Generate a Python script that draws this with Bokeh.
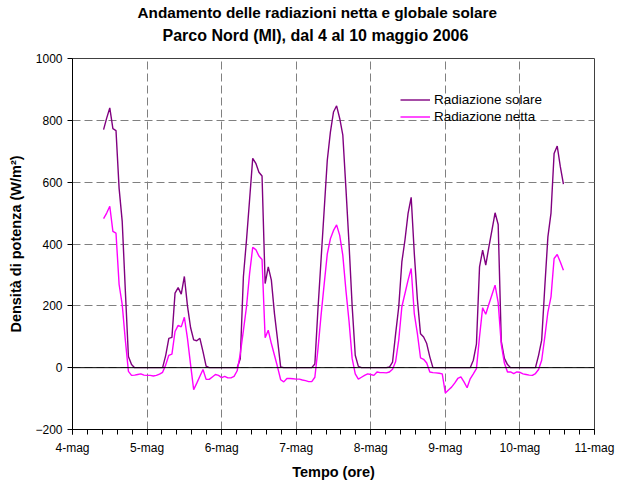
import numpy as np
from bokeh.plotting import figure
from bokeh.models import Title, FixedTicker, Span, Legend, Range1d
from bokeh.embed import file_html
from bokeh.resources import INLINE

# ---- data (hourly readings, hour 0 = 4 May 00:00) ----
start_hour = 10
solare = [
    # 4 May 10:00-23:00
    770, 807, 840, 773, 767, 580, 473, 250, 36, 10, 0, 0, 0, 0,
    # 5 May
    0, 0, 0, 0, 0, 0, 40, 95, 98, 241, 259, 238, 295, 200, 130, 90, 87, 95, 52, 5, 0, 0, 0, 0,
    # 6 May
    0, 0, 0, 0, 0, 0, 29, 294, 413, 544, 677, 661, 632, 620, 272, 326, 283, 175, 90, 2, 0, 0, 0, 0,
    # 7 May
    0, 0, 0, 0, 0, 0, 12, 190, 350, 510, 671, 762, 827, 847, 806, 752, 580, 400, 200, 40, 4, 0, 0, 0,
    # 8 May
    0, 0, 0, 0, 0, 0, 2, 18, 110, 197, 342, 413, 499, 551, 370, 220, 110, 99, 78, 35, 0, 0, 0, 0,
    # 9 May
    0, 0, 0, 0, 0, 0, 0, 0, 0, 24, 76, 326, 380, 332, 390, 445, 501, 463, 85, 30, 10, 0, 0, 0,
    # 10 May 00:00-14:00
    0, 0, 0, 0, 0, 0, 40, 89, 261, 423, 500, 693, 717, 650, 594,
]
netta = [
    482, 500, 522, 441, 435, 269, 204, 90, -12, -25, -24, -22, -20, -24,
    -25, -25, -27, -25, -21, -15, 9, 40, 44, 117, 137, 132, 163, 95, 10, -71, -50, -28, -6, -38, -38, -30, -22, -25,
    -32, -28, -33, -33, -28, -10, 45, 120, 197, 305, 389, 382, 361, 350, 97, 121, 78, 40, 2, -39, -46, -35, -35, -36,
    -37, -37, -40, -42, -45, -45, -31, 60, 170, 270, 368, 417, 444, 462, 428, 363, 250, 150, 30, -20, -37, -31, -25, -20,
    -22, -25, -14, -16, -16, -17, -14, -5, 20, 90, 197, 240, 283, 321, 175, 110, 32, 27, 15, -14, -16, -17, -18, -20,
    -82, -72, -63, -50, -35, -30, -46, -65, -36, -20, -3, 100, 194, 173, 205, 236, 267, 210, 75, 15, -14, -14, -19, -14,
    -15, -20, -22, -24, -25, -19, -6, 24, 99, 180, 229, 353, 366, 342, 315,
]
day_labels = ["4-mag", "5-mag", "6-mag", "7-mag", "8-mag", "9-mag", "10-mag", "11-mag"]
y_ticks = [-200, 0, 200, 400, 600, 800, 1000]

hours = start_hour + np.arange(len(solare))
x = hours / 24.0

FONT = "Liberation Sans"

p = figure(frame_width=522, frame_height=371, output_backend="svg", toolbar_location=None,
           x_range=Range1d(0, 7), y_range=Range1d(-200, 1000),
           min_border_left=72, min_border_right=32, min_border_bottom=50, min_border_top=57,
           background_fill_color="white", border_fill_color="white")
p.title.visible = False

r1 = p.line(x, solare, line_color="#800080", line_width=1.4)
r2 = p.line(x, netta, line_color="#FF00FF", line_width=1.4)

p.add_layout(Span(location=0, dimension="width", line_color="black", line_width=1))

# titles (a thin spacer block sits between the plot frame and the subtitle)
spacer = Title(text=" ", text_font_size="1px", standoff=9)
p.add_layout(spacer, "above")
t2 = Title(text="Parco Nord (MI), dal 4 al 10 maggio 2006", align="left", offset=90,
           text_font=FONT, text_font_size="16px", text_font_style="bold",
           text_color="black", standoff=6)
p.add_layout(t2, "above")
t1 = Title(text="Andamento delle radiazioni netta e globale solare", align="left", offset=65,
           text_font=FONT, text_font_size="15.3px", text_font_style="bold",
           text_color="black", standoff=2)
p.add_layout(t1, "above")

# axes
xa = p.xaxis[0]
xa.ticker = FixedTicker(ticks=list(range(len(day_labels))),
                        minor_ticks=[i * 0.2 for i in range(36)])
xa.major_label_overrides = {i: lab for i, lab in enumerate(day_labels)}
xa.axis_label = "Tempo (ore)"
ya = p.yaxis[0]
ya.ticker = FixedTicker(ticks=y_ticks)
ya.axis_label = "Densità di potenza (W/m²)"
for ax in (xa, ya):
    ax.axis_line_color = "black"
    ax.major_tick_line_color = "black"
    ax.major_tick_in = 0
    ax.major_tick_out = 5
    ax.major_label_text_font = FONT
    ax.major_label_text_font_size = "12px"
    ax.major_label_text_color = "black"
    ax.axis_label_text_font = FONT
    ax.axis_label_text_font_size = "14.5px"
    ax.axis_label_text_font_style = "bold"
    ax.axis_label_text_color = "black"
xa.minor_tick_line_color = "black"
xa.minor_tick_in = 0
xa.minor_tick_out = 5
xa.major_label_standoff = 6
xa.axis_label_standoff = 6
ya.minor_tick_line_color = None
ya.major_label_standoff = 5
ya.axis_label_standoff = 8

for g in (p.xgrid[0], p.ygrid[0]):
    g.grid_line_color = "#808080"
    g.grid_line_dash = "8 4"
    g.grid_line_width = 1
p.outline_line_color = "#404040"

legend = Legend(items=[("Radiazione solare", [r1]), ("Radiazione netta", [r2])],
                location=(328, 304), border_line_color=None, background_fill_alpha=0,
                padding=0, margin=0, spacing=0, label_height=17, glyph_height=17,
                glyph_width=30, label_standoff=4, label_text_font=FONT,
                label_text_font_size="13.5px", label_text_color="black")
p.add_layout(legend)

open("out.html", "w").write(file_html(p, INLINE))
